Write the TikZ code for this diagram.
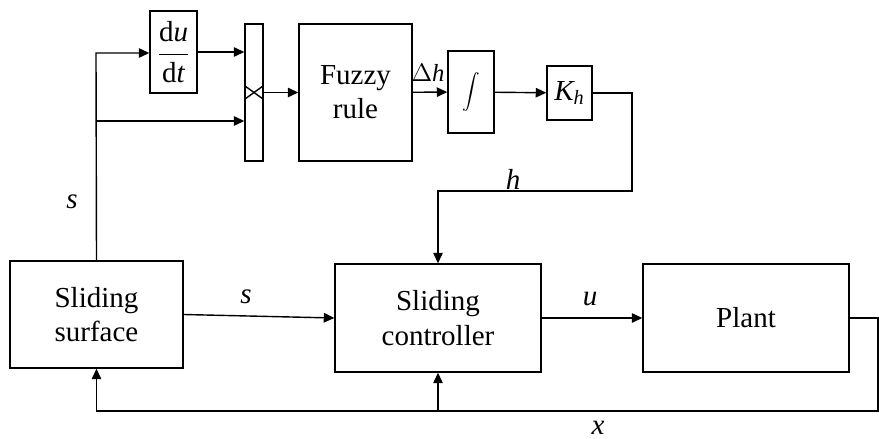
\documentclass[tikz,border=0pt]{standalone}
\usepackage{fontspec}
\setmainfont{Liberation Serif}
\usetikzlibrary{arrows.meta,calc}
\begin{document}
\begin{tikzpicture}[x=0.02cm, y=-0.02cm,
    block/.style={draw, line width=0.8pt, align=center, inner sep=0pt,
                  font=\fontsize{16.5}{19.5}\selectfont},
    lbl/.style={font=\fontsize{16.5}{19.5}\selectfont},
    line width=0.8pt,
    >={Triangle[length=6pt, width=5.4pt]}
]
  \useasboundingbox (0,0) rectangle (879,439);
  \node[block, minimum width=3.46cm, minimum height=2.14cm] (surf)  at (96.5,314.5) {Sliding\\surface};
  \node[block, minimum width=4.12cm, minimum height=2.16cm] (ctrl)  at (438,318)    {Sliding\\controller};
  \node[block, minimum width=4.12cm, minimum height=2.16cm] (plant) at (746,318)    {Plant};
  \node[block, minimum width=0.94cm, minimum height=1.64cm] (deriv) at (173.5,52)   {$\displaystyle\frac{\mathrm{d}\mathit{u}}{\mathrm{d}\mathit{t}}$};
  \node[block, minimum width=0.36cm, minimum height=2.74cm] (mult)  at (254,92.5)   {};
  \node[block, minimum width=2.26cm, minimum height=2.74cm] (fuzzy) at (355.5,92.5) {Fuzzy\\rule};
  \node[block, minimum width=0.92cm, minimum height=1.64cm] (integ) at (471,92)     {$\displaystyle\int$};
  \node[block, minimum width=0.90cm, minimum height=1.08cm] (gain)  at (569.5,93)   {$\mathit{K}_\mathit{h}$};
  \coordinate (top) at (96,53);
  \coordinate (mid) at (96,121);
  \coordinate (hr)  at (632,191);
  \coordinate (fb)  at (878,411);
  \draw ($(mult.west)+(0,-7)$) -- ($(mult.east)+(0,7)$);
  \draw ($(mult.west)+(0,7)$) -- ($(mult.east)+(0,-7)$);
  \draw[->] (surf.north) -- (top) -- (deriv.west |- top);
  \draw[->] (mid) -- (mult.west |- mid);
  \draw[->] (deriv.east) -- (mult.west |- deriv.east);
  \draw[->] (mult) -- (fuzzy);
  \draw[->] (fuzzy) -- (integ);
  \draw[->] (integ) -- (gain);
  \draw[->] (gain.east) -| (hr) -| (ctrl.north);
  \draw[->] (surf.east) -- (ctrl.west);
  \draw[->] (ctrl) -- (plant);
  \draw[->] (plant.east) -| (fb) -| (surf.south);
  \draw[->] (ctrl.south |- fb) -- (ctrl.south);
  \node[lbl] (s1)  at (72,202)  {$\mathit{s}$};
  \node[lbl] (s2)  at (246,297) {$\mathit{s}$};
  \node[lbl, font=\fontsize{14}{16}\selectfont] (dh) at (428,73) {$\Delta\mathit{h}$};
  \node[lbl] (h)   at (513,179) {$\mathit{h}$};
  \node[lbl] (u)   at (590,299) {$\mathit{u}$};
  \node[lbl] (x)   at (598,428) {$\mathit{x}$};
\end{tikzpicture}
\end{document}
